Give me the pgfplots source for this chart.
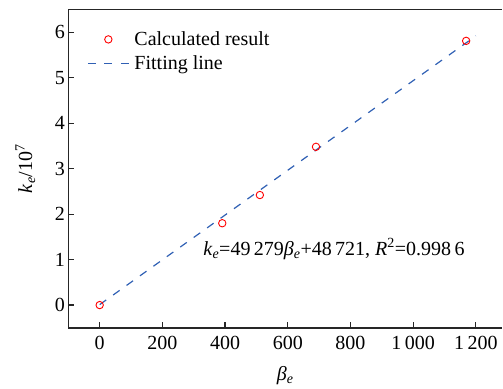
\documentclass[border=0pt]{standalone}
\usepackage{fontspec}
\setmainfont{Liberation Serif}
\usepackage{pgfplots}
\pgfplotsset{compat=1.18}
\definecolor{fitblue}{RGB}{48,96,180}
\pgfplotsset{
  legmark/.style={legend image code/.code={\draw[mark repeat=2,mark phase=2,##1] plot coordinates {(0pt,0pt) (20.5pt,0pt) (41pt,0pt)};}},
  legline/.style={legend image code/.code={\draw[##1] (0pt,0pt) -- (41pt,0pt);}},
}
\begin{document}
\begin{tikzpicture}[font=\fontsize{20}{24}\selectfont]
\begin{axis}[
  scale only axis,
  width=433.7pt, height=318.2pt,
  xmin=-100, xmax=1284, ymin=-0.5, ymax=6.5,
  axis x line=box, axis y line=left,
  axis line style={-, line width=1.6pt, black!85},
  xtick={0,200,400,600,800,1000,1200},
  xticklabels={0,200,400,600,800,1\,000,1\,200},
  ytick={0,1,2,3,4,5,6},
  xtick pos=bottom, ytick pos=left,
  tick align=inside,
  major tick length=6pt,
  tick style={line width=1.2pt, black!85},
  /pgf/number format/assume math mode=true,
  xticklabel style={yshift=-5pt},
  xlabel={\textit{β}\textsubscript{\textit{e}}},
  xlabel style={at={(rel axis cs:0.5,0)}, anchor=center, yshift=-48pt},
  ylabel={\textit{k}\textsubscript{\textit{e}}/10\textsuperscript{7}},
  ylabel style={at={(rel axis cs:0,0.5)}, anchor=center, yshift=43pt},
  legend style={draw=none, fill=none, inner sep=0pt, at={(rel axis cs:0,1)}, anchor=north west,
    xshift=18.7pt, yshift=-20pt,
    font=\fontsize{20}{24}\selectfont, row sep=5pt, column sep=3pt,
    nodes={inner sep=2pt}},
  legend cell align=left,
  clip=false,
]
\addplot[only marks, mark=o, mark size=3.7pt, red, mark options={line width=0.9pt}, legmark]
  coordinates {(0,0.0) (391,1.80) (511,2.42) (690,3.48) (1169,5.81)};
\addlegendentry{Calculated result}
\addplot[fitblue, line width=1.2pt, dash pattern=on 8pt off 8.5pt, legline]
  coordinates {(0,0.01) (1200,5.92)};
\addlegendentry{Fitting line}
\node[anchor=base west, inner sep=0pt] at (axis cs:330,1.09)
  {\textit{k}\textsubscript{\textit{e}}=49\,279\textit{β}\textsubscript{\textit{e}}+48\,721, \textit{R}\textsuperscript{2}=0.998\,6};
\end{axis}
\path (current axis.north west) ++(0pt,9.5pt);
\path (current axis.south west) ++(-68.3pt,-59.3pt);
\end{tikzpicture}
\end{document}
